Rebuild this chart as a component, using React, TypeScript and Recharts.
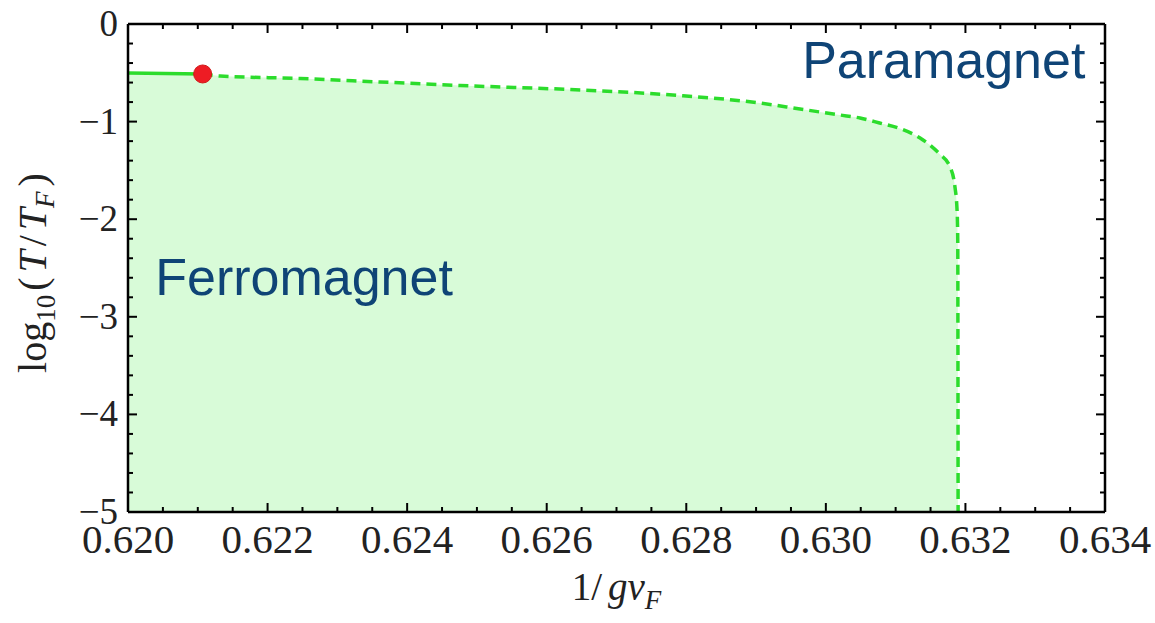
import React from 'react';
import { ComposedChart, Area, Line, XAxis, YAxis, ReferenceDot } from 'recharts';

// Phase boundary: 1/(g nu_F) vs log10(T/T_F)
const boundaryX = [0.62000, 0.62107, 0.62132, 0.62247, 0.62361, 0.62476, 0.62648, 0.62791, 0.62905, 0.62963, 0.63020, 0.63049, 0.63077, 0.63106, 0.63135, 0.63149, 0.63163, 0.63178, 0.63185, 0.63188, 0.63189, 0.631895];
const boundaryY = [-0.502, -0.512, -0.533, -0.558, -0.594, -0.630, -0.676, -0.733, -0.809, -0.871, -0.932, -0.963, -1.014, -1.071, -1.168, -1.240, -1.332, -1.465, -1.670, -1.906, -2.213, -5.0];

const criticalX = 0.62107;
const criticalY = -0.512;

const xMajorTicks = [0.620, 0.622, 0.624, 0.626, 0.628, 0.630, 0.632, 0.634];
const xMinorTicks = [0.6205, 0.621, 0.6215, 0.6225, 0.623, 0.6235, 0.6245, 0.625, 0.6255, 0.6265, 0.627, 0.6275, 0.6285, 0.629, 0.6295, 0.6305, 0.631, 0.6315, 0.6325, 0.633, 0.6335];
const yMajorTicks = [0, -1, -2, -3, -4, -5];
const yMinorTicks = [-0.2, -0.4, -0.6, -0.8, -1.2, -1.4, -1.6, -1.8, -2.2, -2.4, -2.6, -2.8, -3.2, -3.4, -3.6, -3.8, -4.2, -4.4, -4.6, -4.8];

const labelParamagnet = { text: 'Paramagnet', x: 0.62966, y: -0.553 };
const labelFerromagnet = { text: 'Ferromagnet', x: 0.62039, y: -2.777 };

const curve = boundaryX.map((x, i) => ({ x, y: boundaryY[i] }));
const solidPart = curve.filter((p) => p.x <= criticalX);
const dashedPart = curve.filter((p) => p.x >= criticalX);

const xTicks = [...xMajorTicks, ...xMinorTicks].sort((a, b) => a - b);
const yTicks = [...yMajorTicks, ...yMinorTicks].sort((a, b) => a - b);

const isMajor = (list: number[], v: number) => list.some((m) => Math.abs(m - v) < 1e-7);

const SERIF = '"Liberation Serif", "DejaVu Serif", serif';
const SANS = '"Liberation Sans", Arial, sans-serif';
const GREEN = '#2cdc2c';
const FILL = '#d8fbd8';
const TEXT_BLUE = '#0f4476';
const INK = '#222';
const MAJOR = 9;
const MINOR = 5;

const BottomTick = (props: any) => {
  const { x, y, payload } = props;
  const major = isMajor(xMajorTicks, payload.value);
  return (
    <g>
      <line x1={x} y1={y} x2={x} y2={y - (major ? MAJOR : MINOR)} stroke="#000" strokeWidth={2} />
      {major && (
        <text x={x} y={y + 41} textAnchor="middle" fontFamily={SERIF} fontSize={41} fill={INK}>
          {payload.value.toFixed(3)}
        </text>
      )}
    </g>
  );
};

const TopTick = (props: any) => {
  const { x, y, payload } = props;
  const major = isMajor(xMajorTicks, payload.value);
  return <line x1={x} y1={y} x2={x} y2={y + (major ? MAJOR : MINOR)} stroke="#000" strokeWidth={2} />;
};

const LeftTick = (props: any) => {
  const { x, y, payload } = props;
  const major = isMajor(yMajorTicks, payload.value);
  const v = Math.round(payload.value);
  const txt = v < 0 ? '\u2212' + Math.abs(v) : String(v);
  return (
    <g>
      <line x1={x} y1={y} x2={x + (major ? MAJOR : MINOR)} y2={y} stroke="#000" strokeWidth={2} />
      {major && (
        <text x={x - 10} y={y + 12} textAnchor="end" fontFamily={SERIF} fontSize={37} fill={INK}>
          {txt}
        </text>
      )}
    </g>
  );
};

const RightTick = (props: any) => {
  const { x, y, payload } = props;
  const major = isMajor(yMajorTicks, payload.value);
  return <line x1={x} y1={y} x2={x - (major ? MAJOR : MINOR)} y2={y} stroke="#000" strokeWidth={2} />;
};

const XLabel = (props: any) => {
  const vb = props.viewBox || { x: 128, y: 512, width: 977, height: 100 };
  const cx = vb.x + vb.width / 2;
  return (
    <text x={cx} y={vb.y + 88} textAnchor="middle" fontFamily={SERIF} fontSize={39} fill={INK}>
      1/
      <tspan dx={6} fontStyle="italic">g</tspan>
      <tspan fontStyle="italic">ν</tspan>
      <tspan fontStyle="italic" fontSize={27} dy={9}>F</tspan>
    </text>
  );
};

const YLabel = (props: any) => {
  const vb = props.viewBox || { x: 28, y: 24, width: 100, height: 488 };
  const bx = vb.x + 18;
  const cy = vb.y + vb.height / 2 + 5;
  return (
    <text transform={`translate(${bx},${cy}) rotate(-90)`} textAnchor="middle" fontFamily={SERIF} fontSize={40} fill={INK}>
      log
      <tspan fontSize={27} dy={9}>10</tspan>
      <tspan dy={-9} dx={4}>(</tspan>
      <tspan fontStyle="italic" dx={5}>T</tspan>
      <tspan dx={4}>/</tspan>
      <tspan fontStyle="italic" dx={5}>T</tspan>
      <tspan fontStyle="italic" fontSize={27} dy={8}>F</tspan>
      <tspan dy={-8} dx={5}>)</tspan>
    </text>
  );
};

const annotation = (text: string) => (props: any) => {
  const vb = props.viewBox || { x: 0, y: 0, width: 0, height: 0 };
  return (
    <text x={vb.x + vb.width / 2} y={vb.y + vb.height / 2} textAnchor="start" fontFamily={SANS} fontSize={52} fill={TEXT_BLUE}>
      {text}
    </text>
  );
};

export default function App() {
  return (
    <div style={{ position: 'absolute', left: 0, top: 0, width: 1155, height: 623, background: '#fff' }}>
      <ComposedChart width={1155} height={623} margin={{ top: 23, right: 49, bottom: 11, left: 28 }}>
        <XAxis
          xAxisId="b"
          dataKey="x"
          type="number"
          orientation="bottom"
          domain={[0.62, 0.634]}
          allowDataOverflow
          ticks={xTicks}
          interval={0}
          height={100}
          tickSize={0}
          tickMargin={0}
          tickLine={false}
          tick={BottomTick}
          axisLine={{ stroke: '#000', strokeWidth: 2.5 }}
          label={{ content: XLabel }}
        />
        <XAxis
          xAxisId="t"
          dataKey="x"
          type="number"
          orientation="top"
          domain={[0.62, 0.634]}
          allowDataOverflow
          ticks={xTicks}
          interval={0}
          height={1}
          tickSize={0}
          tickMargin={0}
          tickLine={false}
          tick={TopTick}
          axisLine={{ stroke: '#000', strokeWidth: 2.5 }}
        />
        <YAxis
          yAxisId="l"
          type="number"
          orientation="left"
          domain={[-5, 0]}
          allowDataOverflow
          ticks={yTicks}
          interval={0}
          width={100}
          tickSize={0}
          tickMargin={0}
          tickLine={false}
          tick={LeftTick}
          axisLine={{ stroke: '#000', strokeWidth: 2.5 }}
          label={{ content: YLabel }}
        />
        <YAxis
          yAxisId="r"
          type="number"
          orientation="right"
          domain={[-5, 0]}
          allowDataOverflow
          ticks={yTicks}
          interval={0}
          width={1}
          tickSize={0}
          tickMargin={0}
          tickLine={false}
          tick={RightTick}
          axisLine={{ stroke: '#000', strokeWidth: 2.5 }}
        />
        <Area
          xAxisId="b"
          yAxisId="l"
          data={curve}
          dataKey="y"
          type="monotone"
          baseValue="dataMin"
          fill={FILL}
          fillOpacity={1}
          stroke="none"
          isAnimationActive={false}
        />
        <Line
          xAxisId="t"
          yAxisId="r"
          data={solidPart}
          dataKey="y"
          type="monotone"
          stroke={GREEN}
          strokeWidth={3.5}
          dot={false}
          isAnimationActive={false}
        />
        <Line
          xAxisId="b"
          yAxisId="l"
          data={dashedPart}
          dataKey="y"
          type="monotone"
          stroke={GREEN}
          strokeWidth={3.5}
          strokeDasharray="10 6"
          dot={false}
          isAnimationActive={false}
        />
        <ReferenceDot
          xAxisId="b"
          yAxisId="l"
          x={criticalX}
          y={criticalY}
          r={9}
          fill="#ee1c24"
          stroke="#d01818"
          strokeWidth={1}
          ifOverflow="visible"
        />
        <ReferenceDot
          xAxisId="b"
          yAxisId="l"
          x={labelParamagnet.x}
          y={labelParamagnet.y}
          r={0}
          fill="none"
          stroke="none"
          ifOverflow="visible"
          label={{ content: annotation(labelParamagnet.text) }}
        />
        <ReferenceDot
          xAxisId="b"
          yAxisId="l"
          x={labelFerromagnet.x}
          y={labelFerromagnet.y}
          r={0}
          fill="none"
          stroke="none"
          ifOverflow="visible"
          label={{ content: annotation(labelFerromagnet.text) }}
        />
      </ComposedChart>
    </div>
  );
}
